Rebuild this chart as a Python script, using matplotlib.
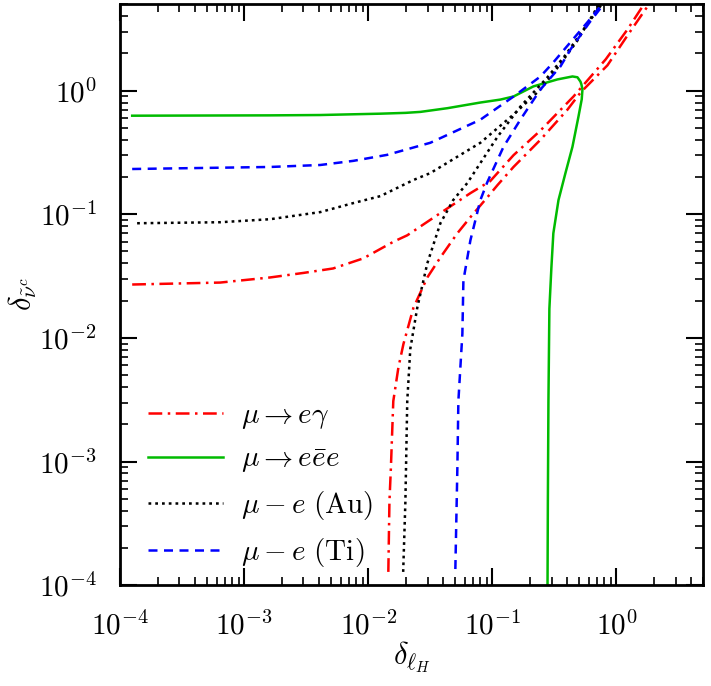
import numpy as np
import matplotlib
matplotlib.use("Agg")
import matplotlib.pyplot as plt
from matplotlib.ticker import FuncFormatter, NullFormatter

plt.rcParams['mathtext.fontset'] = 'cm'
plt.rcParams['font.family'] = 'serif'
plt.rcParams['font.serif'] = ['DejaVu Serif']

# mu -> e gamma (two branches)
meg_up_x = [1.25e-4, 6.4e-4, 1.62e-3, 3.0e-3, 5.2e-3, 9.1e-3, 1.6e-2, 2.06e-2, 3.8e-2, 6.65e-2, 9.6e-2, 0.148, 0.244, 0.45, 0.82, 1.23, 1.71, 2.26]
meg_up_y = [0.0270, 0.0280, 0.0308, 0.0335, 0.0364, 0.0439, 0.0600, 0.0675, 0.102, 0.148, 0.185, 0.300, 0.475, 0.894, 1.79, 3.13, 5.19, 7.27]
meg_lo_x = [1.45e-2, 1.48e-2, 1.52e-2, 1.59e-2, 1.75e-2, 1.92e-2, 2.31e-2, 2.99e-2, 3.81e-2, 5.22e-2, 6.65e-2, 9.11e-2, 0.110, 0.148, 0.244, 0.403, 0.513, 0.846, 1.23, 1.88, 2.48]
meg_lo_y = [1.28e-4, 4.73e-4, 8.8e-4, 3.08e-3, 5.8e-3, 8.93e-3, 0.0175, 0.0308, 0.0447, 0.0701, 0.0946, 0.137, 0.172, 0.241, 0.400, 0.701, 0.963, 1.60, 2.80, 5.19, 7.27]

# mu -> e ebar e
m3e_x = [1.25e-4, 1.62e-3, 4.1e-3, 1.25e-2, 2.0e-2, 2.63e-2, 4.34e-2, 8.0e-2, 0.116, 0.148, 0.214, 0.334, 0.442, 0.485, 0.513, 0.522, 0.532, 0.525, 0.494, 0.442, 0.388, 0.341, 0.310, 0.299, 0.288, 0.283, 0.280, 0.278]
m3e_y = [0.626, 0.630, 0.634, 0.650, 0.660, 0.672, 0.720, 0.800, 0.845, 0.895, 1.08, 1.23, 1.30, 1.28, 1.18, 1.12, 1.02, 0.85, 0.615, 0.351, 0.215, 0.130, 0.0701, 0.0371, 0.0172, 3.08e-3, 4.73e-4, 8e-5]

# mu - e conversion (Au)
au_up_x = [1.37e-4, 6.4e-4, 1.62e-3, 4.1e-3, 7.57e-3, 1.25e-2, 2.31e-2, 3.16e-2, 8.0e-2, 0.148, 0.244, 0.33, 0.48, 0.69, 0.82]
au_up_y = [0.0845, 0.0861, 0.0911, 0.104, 0.123, 0.140, 0.189, 0.215, 0.378, 0.64, 1.02, 1.50, 2.50, 4.6, 6.2]
au_lo_x = [1.91e-2, 1.99e-2, 2.06e-2, 2.18e-2, 2.48e-2, 2.99e-2, 3.81e-2, 4.83e-2, 6.29e-2, 0.110, 0.168, 0.278, 0.39, 0.54, 0.74, 0.87]
au_lo_y = [1.28e-4, 4.73e-4, 3.08e-3, 8.14e-3, 0.0175, 0.0401, 0.0845, 0.130, 0.179, 0.423, 0.741, 1.28, 1.95, 3.1, 4.8, 6.2]

# mu - e conversion (Ti)
ti_up_x = [1.25e-4, 1.62e-3, 4.1e-3, 7.57e-3, 1.42e-2, 3.16e-2, 8.0e-2, 0.148, 0.244, 0.310, 0.426, 0.584, 0.78, 0.93]
ti_up_y = [0.232, 0.241, 0.250, 0.270, 0.302, 0.378, 0.581, 0.894, 1.30, 1.69, 2.46, 3.57, 5.1, 6.4]
ti_lo_x = [5.03e-2, 5.22e-2, 5.32e-2, 5.73e-2, 5.84e-2, 6.65e-2, 8.0e-2, 9.11e-2, 0.123, 0.168, 0.244, 0.354, 0.426, 0.60, 0.80, 0.95]
ti_lo_y = [1.35e-4, 8.77e-4, 3.08e-3, 0.0108, 0.0291, 0.0615, 0.130, 0.182, 0.351, 0.581, 1.02, 1.57, 2.15, 3.5, 5.1, 6.4]

labels = [r'$\mu\rightarrow e\gamma$', r'$\mu\rightarrow e\bar{e}e$',
          r'$\mu-e\ (\mathrm{Au})$', r'$\mu-e\ (\mathrm{Ti})$']

fig = plt.figure(figsize=(7.11, 6.86), dpi=100)
ax = fig.add_axes([0.169, 0.147, 0.820, 0.847])

lw = 1.8
ax.plot(meg_up_x, meg_up_y, color='#ff0000', lw=lw, dashes=(5.5, 2.2, 1, 2.2), label=labels[0])
ax.plot(meg_lo_x, meg_lo_y, color='#ff0000', lw=lw, dashes=(5.5, 2.2, 1, 2.2))
ax.plot(m3e_x, m3e_y, color='#00bb00', lw=lw, label=labels[1])
ax.plot(au_up_x, au_up_y, color='black', lw=lw, dashes=(1.1, 1.6), label=labels[2])
ax.plot(au_lo_x, au_lo_y, color='black', lw=lw, dashes=(1.1, 1.6))
ax.plot(ti_up_x, ti_up_y, color='#0000ff', lw=lw, dashes=(3.6, 2.6), label=labels[3])
ax.plot(ti_lo_x, ti_lo_y, color='#0000ff', lw=lw, dashes=(3.6, 2.6))

ax.set_xscale('log')
ax.set_yscale('log')
ax.set_xlim(1e-4, 5)
ax.set_ylim(1e-4, 5)

fmt = FuncFormatter(lambda v, p: r'$10^{%d}$' % round(np.log10(v)))
for axis in (ax.xaxis, ax.yaxis):
    axis.set_major_formatter(fmt)
    axis.set_minor_formatter(NullFormatter())

ax.tick_params(which='both', direction='in', top=True, right=True, labelsize=21)
ax.tick_params(axis='x', pad=19)
ax.tick_params(axis='y', pad=17)
ax.tick_params(which='major', length=12, width=1.5)
ax.tick_params(which='minor', length=6, width=1.2)
for s in ax.spines.values():
    s.set_linewidth(2)

ax.set_xlabel(r'$\delta_{\ell_H}$', fontsize=22, va='top')
ax.xaxis.set_label_coords(0.5, -0.093)
ax.set_ylabel(r'$\delta_{\tilde{\nu}^c}$', fontsize=22)
ax.yaxis.set_label_coords(-0.14, 0.5)

ax.legend(loc='lower left', bbox_to_anchor=(0.048, 0.028), frameon=False, fontsize=21,
          handlelength=2.55, handletextpad=0.62, labelspacing=0.48, borderpad=0, borderaxespad=0)

fig.savefig('out.png', dpi=100)
